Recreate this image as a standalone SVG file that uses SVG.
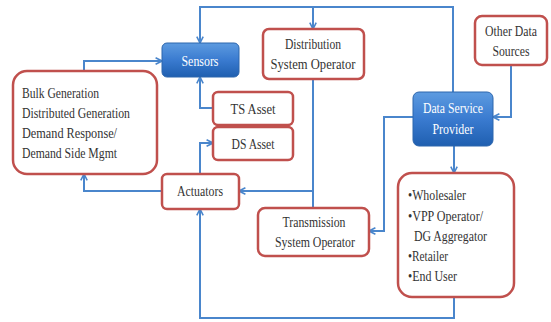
<svg xmlns="http://www.w3.org/2000/svg" width="551" height="322" viewBox="0 0 551 322">
<defs>
<linearGradient id="blue" x1="0" y1="0" x2="0" y2="1">
<stop offset="0" stop-color="#5d9be0"/>
<stop offset="0.5" stop-color="#3a7bd0"/>
<stop offset="1" stop-color="#1f5fb0"/>
</linearGradient>
<marker id="arr" viewBox="0 0 10 10" refX="9" refY="5" markerWidth="8" markerHeight="8" markerUnits="userSpaceOnUse" orient="auto">
<polyline points="1,1 9,5 1,9" fill="none" stroke="#4a86cc" stroke-width="2"/>
</marker>
</defs>
<style>
.r{fill:#fff;stroke:#c0504d;stroke-width:2.5}
.b{fill:url(#blue);stroke:#2d66ad;stroke-width:1}
.c{fill:none;stroke:#4a86cc;stroke-width:2;stroke-linejoin:miter}
.t{font-family:"Liberation Serif","Times New Roman",serif;font-size:14px;fill:#333}
.w{font-family:"Liberation Serif","Times New Roman",serif;font-size:14px;fill:#fff}
</style>
<rect width="551" height="322" fill="#fff"/>
<g id="connectors">
<polyline class="c" points="200,38 200,7 453,7 453,92"/>
<polyline class="c" points="313,7 313,29" marker-end="url(#arr)"/>
<line class="c" x1="200" y1="10" x2="200" y2="43" marker-end="url(#arr)"/>
<polyline class="c" points="84,71 84,61 162,61" marker-end="url(#arr)"/>
<polyline class="c" points="213,108 200,108 200,77" marker-end="url(#arr)"/>
<polyline class="c" points="200,174 200,143 213,143" marker-end="url(#arr)"/>
<polyline class="c" points="162,191 84,191 84,174" marker-end="url(#arr)"/>
<line class="c" x1="313" y1="79" x2="313" y2="208"/>
<line class="c" x1="313" y1="191" x2="239" y2="191" marker-end="url(#arr)"/>
<polyline class="c" points="413,117 384,117 384,231 369,231" marker-end="url(#arr)"/>
<polyline class="c" points="511,65 511,117 493,117" marker-end="url(#arr)"/>
<line class="c" x1="454" y1="146" x2="454" y2="173" marker-end="url(#arr)"/>
<polyline class="c" points="454,297 454,318 200,318 200,209" marker-end="url(#arr)"/>
</g>
<g id="sensors">
<rect class="b" x="162" y="43" width="77" height="34" rx="5"/>
<text class="w" x="200" y="66" text-anchor="middle" textLength="37" lengthAdjust="spacingAndGlyphs">Sensors</text>
</g>
<g id="generation">
<rect class="r" x="13" y="71" width="144" height="103" rx="14"/>
<text class="t" x="22" y="98" textLength="77" lengthAdjust="spacingAndGlyphs">Bulk Generation</text>
<text class="t" x="22" y="118" textLength="108" lengthAdjust="spacingAndGlyphs">Distributed Generation</text>
<text class="t" x="22" y="138" textLength="95" lengthAdjust="spacingAndGlyphs">Demand Response/</text>
<text class="t" x="22" y="158" textLength="95" lengthAdjust="spacingAndGlyphs">Demand Side Mgmt</text>
</g>
<g id="dso">
<rect class="r" x="263" y="29" width="101" height="50" rx="6"/>
<text class="t" x="313" y="49" text-anchor="middle" textLength="56" lengthAdjust="spacingAndGlyphs">Distribution</text>
<text class="t" x="313" y="69" text-anchor="middle" textLength="85" lengthAdjust="spacingAndGlyphs">System Operator</text>
</g>
<g id="ts-asset">
<rect class="r" x="213" y="92" width="80" height="33" rx="5"/>
<text class="t" x="253" y="114" text-anchor="middle" textLength="45" lengthAdjust="spacingAndGlyphs">TS Asset</text>
</g>
<g id="ds-asset">
<rect class="r" x="213" y="127" width="80" height="33" rx="5"/>
<text class="t" x="253" y="149" text-anchor="middle" textLength="43" lengthAdjust="spacingAndGlyphs">DS Asset</text>
</g>
<g id="actuators">
<rect class="r" x="162" y="174" width="77" height="35" rx="5"/>
<text class="t" x="200" y="196" text-anchor="middle" textLength="46" lengthAdjust="spacingAndGlyphs">Actuators</text>
</g>
<g id="other-data">
<rect class="r" x="475" y="16" width="72" height="49" rx="7"/>
<text class="t" x="511" y="36" text-anchor="middle" textLength="52" lengthAdjust="spacingAndGlyphs">Other Data</text>
<text class="t" x="511" y="56" text-anchor="middle" textLength="37" lengthAdjust="spacingAndGlyphs">Sources</text>
</g>
<g id="dsp">
<rect class="b" x="413" y="92" width="80" height="54" rx="6"/>
<text class="w" x="453" y="113" text-anchor="middle" textLength="60" lengthAdjust="spacingAndGlyphs">Data Service</text>
<text class="w" x="453" y="134" text-anchor="middle" textLength="41" lengthAdjust="spacingAndGlyphs">Provider</text>
</g>
<g id="tso">
<rect class="r" x="258" y="208" width="111" height="48" rx="7"/>
<text class="t" x="314" y="227" text-anchor="middle" textLength="63" lengthAdjust="spacingAndGlyphs">Transmission</text>
<text class="t" x="315" y="247" text-anchor="middle" textLength="80" lengthAdjust="spacingAndGlyphs">System Operator</text>
</g>
<g id="market">
<rect class="r" x="398" y="173" width="116" height="124" rx="14"/>
<text class="t" x="408" y="200" textLength="58" lengthAdjust="spacingAndGlyphs">•Wholesaler</text>
<text class="t" x="408" y="221" textLength="75" lengthAdjust="spacingAndGlyphs">•VPP Operator/</text>
<text class="t" x="414" y="241" textLength="73" lengthAdjust="spacingAndGlyphs">DG Aggregator</text>
<text class="t" x="408" y="261" textLength="40" lengthAdjust="spacingAndGlyphs">•Retailer</text>
<text class="t" x="408" y="281" textLength="49" lengthAdjust="spacingAndGlyphs">•End User</text>
</g>
</svg>
